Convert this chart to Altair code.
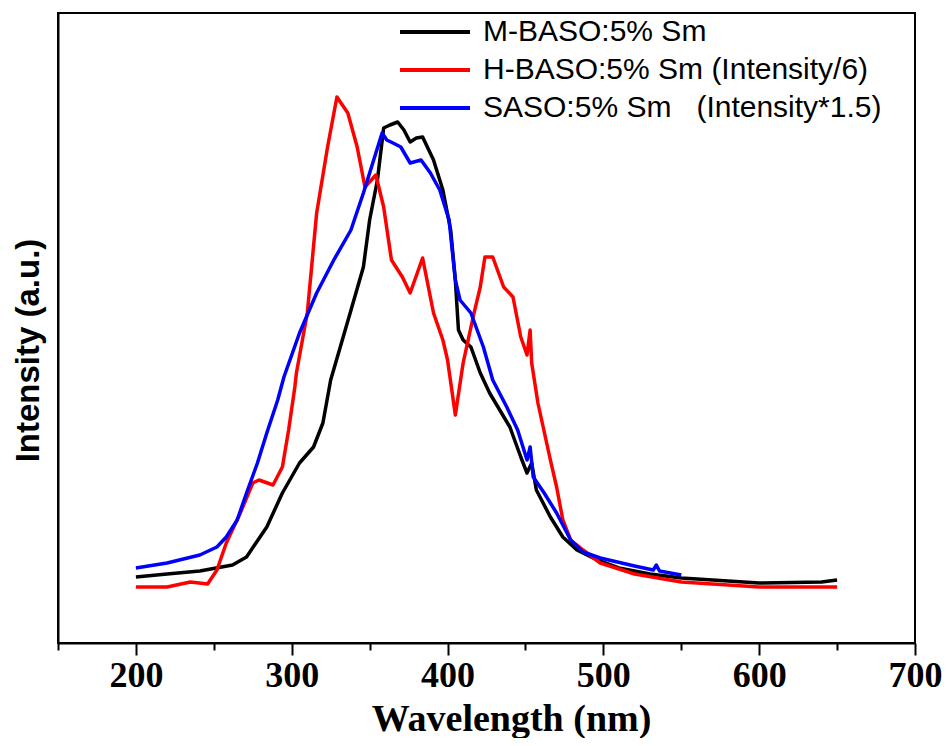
import altair as alt
import pandas as pd

series_names = ["M-BASO:5% Sm", "H-BASO:5% Sm (Intensity/6)", "SASO:5% Sm\u00a0\u00a0\u00a0(Intensity*1.5)"]
series_colors = ["#000000", "#ff0000", "#0000ff"]

m_wl = [200, 220, 241, 262, 271, 284, 294, 305, 314, 320, 325, 337.5, 346, 350, 355, 359, 363, 368,
        372, 376, 380, 384, 391, 397, 402, 405, 407, 410, 415, 421, 427, 440, 447, 451, 454, 457,
        466, 474, 483, 496, 510, 530, 550, 600, 640, 650]
m_val = [66, 69, 72, 78, 86, 116, 150, 180, 196, 220, 263, 330, 376, 423, 463, 515, 518, 521,
         513, 501, 505, 506, 483, 453, 413, 363, 313, 303, 296, 270, 250, 216, 186, 170, 180, 153,
         126, 106, 93, 83, 75, 69, 65, 60, 61, 63]

h_wl = [200, 220, 235, 246, 252, 258, 267, 275, 279, 288, 294, 298, 302, 303, 310, 316, 323, 329,
        336, 342, 347, 354, 359, 364, 371, 376, 384, 391, 397, 400, 405, 410, 417, 421, 424, 429,
        436, 442, 447, 451, 453, 454, 458, 466, 470, 474, 479, 487, 498, 520, 550, 600, 650]
h_val = [56, 56, 61, 59, 73, 100, 130, 160, 163, 158, 176, 213, 256, 270, 330, 430, 496, 546,
         530, 496, 456, 468, 436, 383, 366, 350, 385, 330, 303, 283, 228, 280, 330, 356, 386, 386,
         356, 346, 306, 288, 313, 280, 240, 183, 156, 123, 103, 93, 80, 69, 61, 56, 56]

s_wl = [200, 220, 241, 252, 258, 265, 271, 278, 284, 291, 295, 305, 316, 327, 338, 346, 352, 358,
        361, 365, 370, 376, 383, 389, 395, 401, 405, 408, 415, 423, 429, 438, 445, 451, 453, 455,
        462, 470, 479, 487, 498, 520, 532, 534, 536, 550]
s_val = [75, 80, 88, 96, 106, 123, 150, 180, 210, 243, 266, 310, 350, 383, 413, 450, 480, 510,
         503, 500, 496, 480, 483, 470, 453, 423, 363, 343, 330, 296, 263, 236, 213, 183, 196, 166,
         150, 130, 103, 91, 85, 77, 73, 78, 72, 68]

major_ticks = [200, 300, 400, 500, 600, 700]
minor_ticks = [150, 250, 350, 450, 550, 650]

rows = []
for name, wl, val in [(series_names[0], m_wl, m_val), (series_names[1], h_wl, h_val), (series_names[2], s_wl, s_val)]:
    for w, v in zip(wl, val):
        rows.append({"series": name, "wl": w, "v": v})
df = pd.DataFrame(rows)

xscale = alt.Scale(domain=[150, 700], nice=False, zero=False)
yscale = alt.Scale(domain=[0, 630], nice=False)

lines = alt.Chart(df).mark_line(strokeWidth=3.5, strokeJoin="round").encode(
    x=alt.X("wl:Q", scale=xscale,
            axis=alt.Axis(values=major_ticks, orient="bottom", title="Wavelength (nm)", grid=False,
                          tickSize=12, tickWidth=2, tickColor="black",
                          domainColor="black", domainWidth=2,
                          labelFont="Liberation Serif", labelFontWeight="bold",
                          labelFontSize=36, labelColor="black", labelPadding=3,
                          labelFlush=False, labelOverlap=False, labelBound=False,
                          titleFont="Liberation Serif", titleFontWeight="bold",
                          titleFontSize=38, titleColor="black",
                          titleX=453, titleY=87, titleBaseline="alphabetic",
                          titleAlign="center")),
    y=alt.Y("v:Q", scale=yscale,
            axis=alt.Axis(title="Intensity (a.u.)", orient="left", labels=False, ticks=False, grid=False,
                          domainColor="black", domainWidth=2,
                          titleFont="Liberation Sans", titleFontWeight="bold",
                          titleFontSize=33, titleColor="black",
                          titleX=-30, titleY=337, titleBaseline="middle",
                          titleAlign="center", titleAngle=270)),
    color=alt.Color("series:N",
                    scale=alt.Scale(domain=series_names, range=series_colors),
                    sort=series_names,
                    legend=alt.Legend(title=None, orient="none", legendX=340, legendY=4,
                                      symbolType="stroke", symbolSize=4900,
                                      symbolStrokeWidth=4, clipHeight=30, rowPadding=8,
                                      labelOffset=11, labelFont="Liberation Sans",
                                      labelFontSize=30, labelColor="black", labelLimit=600,
                                      padding=0)),
    order=alt.Order("wl:Q"),
)

minor = alt.Chart(df).mark_point(opacity=0).encode(
    x=alt.X("wl:Q", scale=xscale,
            axis=alt.Axis(values=minor_ticks, orient="bottom", labels=False, title=None,
                          domain=False, grid=False, tickSize=7, tickWidth=2,
                          tickColor="black")),
)

chart = alt.layer(minor, lines).resolve_axis(x="independent").properties(
    width=857, height=630,
    autosize=alt.AutoSizeParams(type="none"),
    padding={"left": 50, "top": 5, "right": 28, "bottom": 95},
).configure_view(stroke="black", strokeWidth=2)

chart.save("out.html", embed_options={"renderer": "svg", "actions": False})
